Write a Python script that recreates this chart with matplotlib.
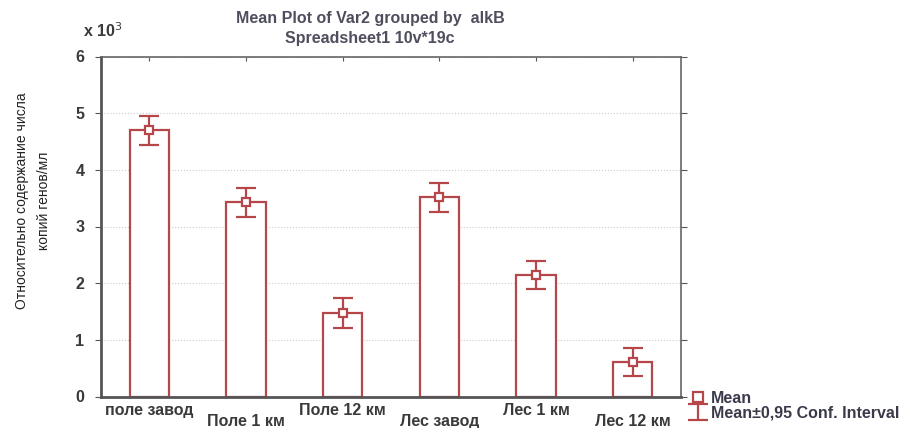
import numpy as np
import matplotlib.pyplot as plt
from matplotlib.lines import Line2D

# Mean values (x 10^3) and 0.95 confidence limits per group
groups = ['поле завод', 'Поле 1 км', 'Поле 12 км', 'Лес завод', 'Лес 1 км', 'Лес 12 км']
means = [4.70, 3.43, 1.47, 3.52, 2.15, 0.61]
ci_low = [4.43, 3.17, 1.21, 3.25, 1.89, 0.36]
ci_high = [4.95, 3.68, 1.73, 3.77, 2.40, 0.86]

red = '#b5474a'
txt = '#3a3a3a'

plt.rcParams['font.family'] = ['Liberation Sans', 'DejaVu Sans']

fig = plt.figure(figsize=(9.08, 4.28), dpi=100)
ax = fig.add_axes([101 / 908, 1 - 396.5 / 428, 580 / 908, 340 / 428])

x = np.arange(len(groups))
means = np.array(means)
yerr = [means - np.array(ci_low), np.array(ci_high) - means]

ax.bar(x, means, width=0.41, facecolor='white', edgecolor=red, linewidth=1.6, zorder=2)
eb = ax.errorbar(x, means, yerr=yerr, fmt='none', ecolor=red, elinewidth=1.6,
                 capsize=7, capthick=1.6, zorder=3)
ax.plot(x, means, 's', ms=6, mfc='white', mec=red, mew=1.6, zorder=4)

ax.set_xlim(-0.5, len(groups) - 0.5)
ax.set_ylim(0, 6)
ax.set_yticks(range(7))
ax.set_yticklabels([str(v) for v in range(7)], fontsize=11.5, fontweight='bold', color=txt)
ax.yaxis.grid(True, color='#cccccc', linestyle=':', linewidth=0.8, zorder=0)
ax.set_axisbelow(True)

# staggered category labels
ax.set_xticks(x)
ax.set_xticklabels([])
for i, g in enumerate(groups):
    dy = -0.25 if i % 2 == 0 else -0.44
    ax.text(i, dy, g, ha='center', va='center', fontsize=11.5, color=txt,
            fontweight='bold', clip_on=False)

ax.tick_params(axis='x', direction='in', length=3, top=True, color='#555555')
ax.tick_params(axis='y', direction='out', length=4, right=True, color='#555555', pad=8)
for side in ['left', 'bottom']:
    ax.spines[side].set_linewidth(2.0)
    ax.spines[side].set_color('#555555')
for side in ['right', 'top']:
    ax.spines[side].set_linewidth(1.2)
    ax.spines[side].set_color('#666666')

fig.text(370 / 908, 1 - 19 / 428, 'Mean Plot of Var2 grouped by  alkB', ha='center', va='center',
         fontsize=11.5, fontweight='bold', color='#4e4e5e')
fig.text(370 / 908, 1 - 39 / 428, 'Spreadsheet1 10v*19c', ha='center', va='center',
         fontsize=11.5, fontweight='bold', color='#4e4e5e')
fig.text(83 / 908, 1 - 31 / 428, 'x 10$^3$', ha='left', va='center',
         fontsize=11.5, fontweight='bold', color=txt)

fig.text(33 / 908, 1 - 201 / 428, 'Относительно содержание числа\nкопий генов/мл',
         ha='center', va='center', rotation=90, fontsize=10, color='#222222',
         linespacing=1.8)

mean_h = Line2D([], [], marker='s', ms=7, mfc='white', mec=red, mew=1.6, ls='none')
fig.legend([mean_h, eb], ['Mean', 'Mean±0,95 Conf. Interval'], loc='upper left',
           bbox_to_anchor=(682 / 908, 1 - 383 / 428), frameon=False,
           handlelength=1.0, handletextpad=0.3, labelspacing=-0.05, borderpad=0,
           prop={'size': 11.5, 'weight': 'bold'}, labelcolor='#3a3a4a')

fig.savefig('out.png', dpi=100)
